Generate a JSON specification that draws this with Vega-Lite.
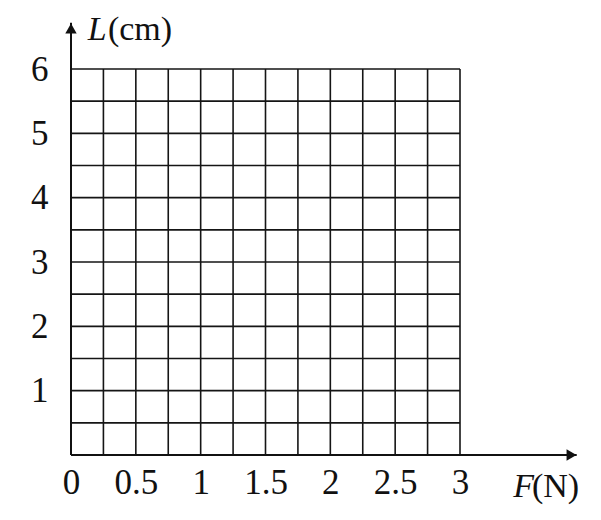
{
  "$schema": "https://vega.github.io/schema/vega-lite/v6.json",
  "width": 389,
  "height": 386,
  "autosize": "none",
  "padding": {"left": 71, "top": 69, "right": 141, "bottom": 65},
  "background": "white",
  "config": {"view": {"stroke": null}},
  "layer": [
    {
      "data": {"values": [
        {"x": 0, "y": 0, "x2": 0, "y2": 6},
        {"x": 0.25, "y": 0, "x2": 0.25, "y2": 6},
        {"x": 0.5, "y": 0, "x2": 0.5, "y2": 6},
        {"x": 0.75, "y": 0, "x2": 0.75, "y2": 6},
        {"x": 1, "y": 0, "x2": 1, "y2": 6},
        {"x": 1.25, "y": 0, "x2": 1.25, "y2": 6},
        {"x": 1.5, "y": 0, "x2": 1.5, "y2": 6},
        {"x": 1.75, "y": 0, "x2": 1.75, "y2": 6},
        {"x": 2, "y": 0, "x2": 2, "y2": 6},
        {"x": 2.25, "y": 0, "x2": 2.25, "y2": 6},
        {"x": 2.5, "y": 0, "x2": 2.5, "y2": 6},
        {"x": 2.75, "y": 0, "x2": 2.75, "y2": 6},
        {"x": 3, "y": 0, "x2": 3, "y2": 6},
        {"x": 0, "y": 0.5, "x2": 3, "y2": 0.5},
        {"x": 0, "y": 1, "x2": 3, "y2": 1},
        {"x": 0, "y": 1.5, "x2": 3, "y2": 1.5},
        {"x": 0, "y": 2, "x2": 3, "y2": 2},
        {"x": 0, "y": 2.5, "x2": 3, "y2": 2.5},
        {"x": 0, "y": 3, "x2": 3, "y2": 3},
        {"x": 0, "y": 3.5, "x2": 3, "y2": 3.5},
        {"x": 0, "y": 4, "x2": 3, "y2": 4},
        {"x": 0, "y": 4.5, "x2": 3, "y2": 4.5},
        {"x": 0, "y": 5, "x2": 3, "y2": 5},
        {"x": 0, "y": 5.5, "x2": 3, "y2": 5.5},
        {"x": 0, "y": 6, "x2": 3, "y2": 6}
      ]},
      "mark": {"type": "rule", "color": "#151515", "strokeWidth": 1.6},
      "encoding": {
        "x": {"field": "x", "type": "quantitative",
          "scale": {"domain": [0, 3], "nice": false, "zero": false},
          "axis": {
            "values": [0, 0.5, 1, 1.5, 2, 2.5, 3],
            "labelExpr": "'' + datum.value",
            "title": null, "domain": false, "ticks": false, "grid": false,
            "labelFont": "Liberation Serif", "labelFontSize": 35, "labelColor": "#111",
            "labelPadding": 10, "labelFlush": false, "labelOverlap": false
          }},
        "y": {"field": "y", "type": "quantitative",
          "scale": {"domain": [0, 6], "nice": false, "zero": false},
          "axis": {
            "values": [1, 2, 3, 4, 5, 6],
            "labelExpr": "'' + datum.value",
            "title": null, "domain": false, "ticks": false, "grid": false,
            "labelFont": "Liberation Serif", "labelFontSize": 35, "labelColor": "#111",
            "labelPadding": 23, "labelFlush": false, "labelOverlap": false
          }},
        "x2": {"field": "x2"},
        "y2": {"field": "y2"}
      }
    },
    {
      "data": {"values": [
        {"x": 0, "y": 0, "x2": 0, "y2": 6.72},
        {"x": 0, "y": 0, "x2": 3.9, "y2": 0}
      ]},
      "mark": {"type": "rule", "color": "#111", "strokeWidth": 2},
      "encoding": {
        "x": {"field": "x", "type": "quantitative"},
        "y": {"field": "y", "type": "quantitative"},
        "x2": {"field": "x2"},
        "y2": {"field": "y2"}
      }
    },
    {
      "data": {"values": [
        {"x": 0, "y": 6.63, "shape": "triangle-up"},
        {"x": 3.86, "y": 0, "shape": "triangle-right"}
      ]},
      "mark": {"type": "point", "filled": true, "color": "#111", "opacity": 1, "size": 130},
      "encoding": {
        "x": {"field": "x", "type": "quantitative"},
        "y": {"field": "y", "type": "quantitative"},
        "shape": {"field": "shape", "type": "nominal", "scale": null}
      }
    },
    {
      "data": {"values": [
        {"x": 0.13, "y": 6.45, "text": "L"},
        {"x": 3.41, "y": -0.65, "text": "F"}
      ]},
      "mark": {"type": "text", "font": "Liberation Serif", "fontSize": 34, "fontStyle": "italic", "align": "left", "baseline": "alphabetic", "color": "#111"},
      "encoding": {
        "x": {"field": "x", "type": "quantitative"},
        "y": {"field": "y", "type": "quantitative"},
        "text": {"field": "text"}
      }
    },
    {
      "data": {"values": [
        {"x": 0.285, "y": 6.45, "text": "(cm)"},
        {"x": 3.555, "y": -0.65, "text": "(N)"}
      ]},
      "mark": {"type": "text", "font": "Liberation Serif", "fontSize": 34, "align": "left", "baseline": "alphabetic", "color": "#111"},
      "encoding": {
        "x": {"field": "x", "type": "quantitative"},
        "y": {"field": "y", "type": "quantitative"},
        "text": {"field": "text"}
      }
    }
  ]
}
